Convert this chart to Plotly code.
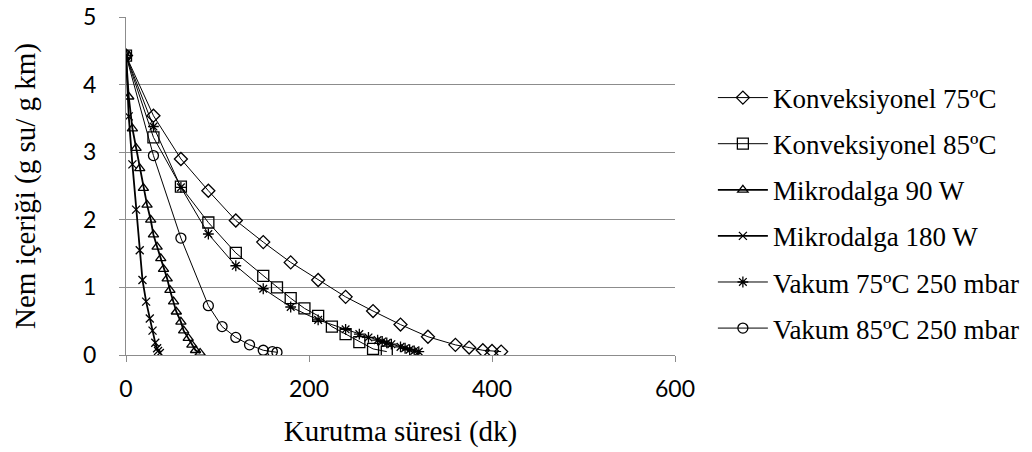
import plotly.graph_objects as go

# Kurutma süresi (dk) and Nem içeriği (g su/ g km)
konv75_t = [0, 30, 60, 90, 120, 150, 180, 210, 240, 270, 300, 330, 360, 375, 390, 400, 410]
konv75_v = [4.43, 3.54, 2.90, 2.43, 1.99, 1.67, 1.37, 1.11, 0.86, 0.65, 0.45, 0.27, 0.15, 0.11, 0.07, 0.06, 0.05]

konv85_t = [0, 30, 60, 90, 120, 150, 165, 180, 195, 210, 225, 240, 255, 270, 285]
konv85_v = [4.43, 3.22, 2.49, 1.96, 1.51, 1.17, 1.00, 0.84, 0.69, 0.58, 0.42, 0.31, 0.19, 0.09, 0.05]

mik90_t = [0, 3, 7, 11, 15, 19, 23, 27, 30, 34, 38, 41, 45, 48, 52, 55, 60, 63, 68, 72, 76, 81]
mik90_v = [4.43, 3.82, 3.35, 3.06, 2.76, 2.47, 2.22, 2.00, 1.78, 1.60, 1.43, 1.27, 1.13, 0.96, 0.79, 0.64, 0.49, 0.36, 0.25, 0.15, 0.07, 0.03]

mik180_t = [0, 3, 7, 11, 15, 18, 22, 26, 29, 32, 34, 35, 37]
mik180_v = [4.43, 3.53, 2.82, 2.15, 1.55, 1.11, 0.79, 0.54, 0.36, 0.18, 0.10, 0.06, 0.03]

vak75_t = [0, 30, 60, 90, 120, 150, 180, 210, 240, 255, 265, 275, 280, 285, 290, 300, 305, 310, 315, 320]
vak75_v = [4.43, 3.38, 2.48, 1.79, 1.32, 0.98, 0.71, 0.52, 0.38, 0.31, 0.26, 0.22, 0.20, 0.18, 0.16, 0.12, 0.10, 0.08, 0.06, 0.05]

vak85_t = [0, 30, 60, 90, 105, 120, 135, 150, 160, 165]
vak85_v = [4.43, 2.95, 1.73, 0.73, 0.42, 0.26, 0.15, 0.07, 0.05, 0.04]

series = [
    ("Konveksiyonel 75ºC", konv75_t, konv75_v, "diamond-open", 10, 1.0),
    ("Konveksiyonel 85ºC", konv85_t, konv85_v, "square-open", 11, 1.0),
    ("Mikrodalga 90 W", mik90_t, mik90_v, "triangle-up-open", 9, 1.8),
    ("Mikrodalga 180 W", mik180_t, mik180_v, "x-thin", 8, 1.8),
    ("Vakum 75ºC 250 mbar", vak75_t, vak75_v, "asterisk-open", 9, 1.0),
    ("Vakum 85ºC 250 mbar", vak85_t, vak85_v, "circle-open", 10, 1.0),
]

fig = go.Figure()
for i, (name, t, v, sym, size, lw) in enumerate(series):
    fig.add_trace(go.Scatter(
        x=t, y=v, name=name, mode="lines+markers",
        legendgroup=f"g{i}",
        line=dict(color="black", width=lw),
        marker=dict(symbol=sym, size=size, color="black",
                    line=dict(color="black", width=1.3)),
    ))

grid = "#8c8c8c"
serif = "Liberation Serif, Times New Roman, serif"
fig.update_layout(
    width=1032, height=452,
    margin=dict(l=126, r=357, t=17, b=97, autoexpand=False),
    paper_bgcolor="white", plot_bgcolor="white",
    showlegend=True,
    legend=dict(
        x=1.069, xanchor="left", y=0.42, yanchor="middle",
        font=dict(family=serif, size=27, color="black"),
        tracegroupgap=8, itemwidth=50,
        bgcolor="rgba(0,0,0,0)",
    ),
    xaxis=dict(
        range=[0, 600], tickvals=[0, 200, 400, 600],
        showgrid=False, zeroline=False, automargin=False,
        showline=True, linecolor=grid, linewidth=1.2,
        ticks="outside", ticklen=6, tickcolor=grid,
        ticklabelstandoff=7,
        tickfont=dict(family="Lato", size=23, color="black"),
        title=dict(text="Kurutma süresi (dk)", standoff=19,
                   font=dict(family=serif, size=29, color="black")),
    ),
    yaxis=dict(
        range=[0, 5], dtick=1, automargin=False,
        showgrid=True, gridcolor=grid, gridwidth=1.2,
        zeroline=False,
        showline=True, linecolor=grid, linewidth=1.2,
        ticks="outside", ticklen=6, tickcolor=grid,
        ticklabelstandoff=18,
        tickfont=dict(family="Lato", size=23, color="black"),
        title=dict(text="Nem içeriği (g su/ g km)", standoff=38,
                   font=dict(family=serif, size=29, color="black")),
    ),
)

fig.write_html("out.html")
